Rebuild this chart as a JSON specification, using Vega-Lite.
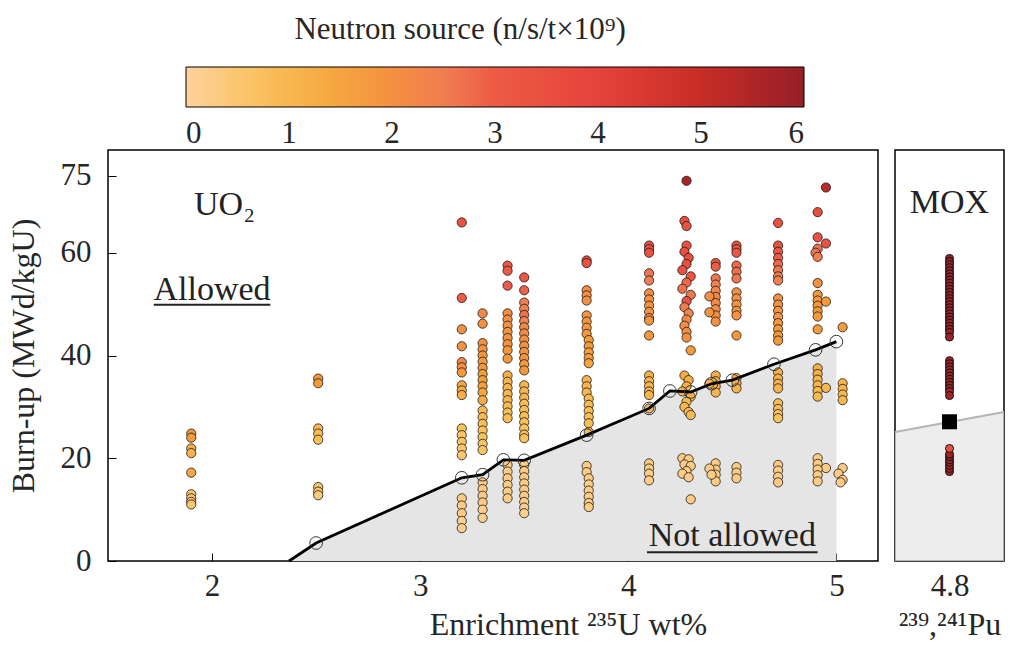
{
"$schema": "https://vega.github.io/schema/vega-lite/v6.json",
"background": "white",
"padding": {"left": 6, "top": 15, "right": 4, "bottom": 4},
"config": {
  "font": "Liberation Serif",
  "view": {"stroke": "black", "strokeWidth": 1.5},
  "axis": {"grid": false, "domain": false, "labelFont": "Liberation Serif", "labelFontSize": 31, "labelColor": "#262626", "titleFont": "Liberation Serif", "titleFontSize": 32, "titleFontWeight": "normal", "titleColor": "#262626", "tickColor": "black", "tickWidth": 1, "tickSize": -8, "labelFlush": false},
  "legend": {"orient": "none", "legendX": 78, "legendY": -135, "direction": "horizontal", "gradientLength": 618, "gradientThickness": 40, "gradientStrokeColor": "black", "gradientStrokeWidth": 1, "titleFont": "Liberation Serif", "titleFontSize": 31, "titleFontWeight": "normal", "titleColor": "#262626", "titleAnchor": "middle", "titleOrient": "top", "titlePadding": 21, "titleLimit": 0, "labelFont": "Liberation Serif", "labelFontSize": 31, "labelColor": "#262626", "labelOverlap": false, "labelAlign": "center"}
},
"datasets": {
"pts": [
{"x":1.9,"y":24.8,"n":1.8},{"x":1.9,"y":24.0,"n":1.7},{"x":1.9,"y":21.9,"n":1.2},{"x":1.9,"y":21.0,"n":1.1},{"x":1.9,"y":17.2,"n":1.4},{"x":1.9,"y":13.0,"n":0.6},{"x":1.9,"y":12.2,"n":0.5},{"x":1.9,"y":11.5,"n":0.5},{"x":1.9,"y":11.0,"n":0.5},
{"x":2.51,"y":35.5,"n":1.9},{"x":2.51,"y":34.6,"n":1.8},{"x":2.51,"y":25.8,"n":1.0},{"x":2.51,"y":24.8,"n":0.9},{"x":2.51,"y":23.6,"n":0.8},{"x":2.51,"y":14.4,"n":0.5},{"x":2.51,"y":13.5,"n":0.5},{"x":2.51,"y":12.8,"n":0.4},
{"x":3.2,"y":65.9,"n":3.3},{"x":3.2,"y":51.2,"n":3.0},{"x":3.2,"y":45.1,"n":2.0},{"x":3.2,"y":41.8,"n":1.9},{"x":3.2,"y":38.7,"n":2.2},{"x":3.2,"y":37.7,"n":2.0},{"x":3.2,"y":36.7,"n":1.8},{"x":3.2,"y":34.2,"n":1.4},{"x":3.2,"y":33.2,"n":1.3},{"x":3.2,"y":32.3,"n":1.2},{"x":3.2,"y":25.8,"n":0.7},{"x":3.2,"y":24.5,"n":0.6},{"x":3.2,"y":23.2,"n":0.6},{"x":3.2,"y":21.9,"n":0.5},{"x":3.2,"y":20.6,"n":0.5},{"x":3.2,"y":12.2,"n":0.3},{"x":3.2,"y":10.8,"n":0.3},{"x":3.2,"y":9.3,"n":0.3},{"x":3.2,"y":7.8,"n":0.2},{"x":3.2,"y":6.4,"n":0.2},
{"x":3.3,"y":48.2,"n":2.2},{"x":3.3,"y":46.2,"n":2.0},{"x":3.3,"y":42.4,"n":2.0},{"x":3.3,"y":41.2,"n":1.9},{"x":3.3,"y":40.0,"n":1.9},{"x":3.3,"y":38.8,"n":1.8},{"x":3.3,"y":37.6,"n":1.8},{"x":3.3,"y":36.4,"n":1.7},{"x":3.3,"y":35.2,"n":1.6},{"x":3.3,"y":34.0,"n":1.6},{"x":3.3,"y":32.8,"n":1.5},{"x":3.3,"y":31.3,"n":1.3},{"x":3.3,"y":29.3,"n":0.9},{"x":3.3,"y":28.0,"n":0.9},{"x":3.3,"y":26.7,"n":0.8},{"x":3.3,"y":25.4,"n":0.7},{"x":3.3,"y":24.1,"n":0.7},{"x":3.3,"y":22.8,"n":0.6},{"x":3.3,"y":21.6,"n":0.6},{"x":3.3,"y":15.3,"n":0.3},{"x":3.3,"y":14.0,"n":0.3},{"x":3.3,"y":12.7,"n":0.3},{"x":3.3,"y":11.4,"n":0.3},{"x":3.3,"y":10.0,"n":0.2},{"x":3.3,"y":8.4,"n":0.2},
{"x":3.42,"y":57.5,"n":3.1},{"x":3.42,"y":56.5,"n":3.0},{"x":3.42,"y":53.6,"n":3.0},{"x":3.42,"y":48.2,"n":2.1},{"x":3.42,"y":47.0,"n":2.0},{"x":3.42,"y":45.8,"n":2.0},{"x":3.42,"y":44.6,"n":1.9},{"x":3.42,"y":43.4,"n":1.9},{"x":3.42,"y":42.2,"n":1.9},{"x":3.42,"y":41.0,"n":1.8},{"x":3.42,"y":39.4,"n":1.8},{"x":3.42,"y":36.1,"n":1.2},{"x":3.42,"y":34.9,"n":1.1},{"x":3.42,"y":33.7,"n":1.1},{"x":3.42,"y":32.5,"n":1.0},{"x":3.42,"y":31.3,"n":1.0},{"x":3.42,"y":30.1,"n":0.9},{"x":3.42,"y":28.9,"n":0.8},{"x":3.42,"y":27.8,"n":0.8},{"x":3.42,"y":18.7,"n":0.3},{"x":3.42,"y":17.4,"n":0.3},{"x":3.42,"y":16.1,"n":0.3},{"x":3.42,"y":14.8,"n":0.3},{"x":3.42,"y":13.5,"n":0.3},{"x":3.42,"y":12.2,"n":0.3},
{"x":3.5,"y":55.2,"n":3.1},{"x":3.5,"y":52.7,"n":2.9},{"x":3.5,"y":50.3,"n":2.5},{"x":3.5,"y":49.1,"n":2.4},{"x":3.5,"y":47.9,"n":2.7},{"x":3.5,"y":46.7,"n":2.3},{"x":3.5,"y":45.5,"n":2.2},{"x":3.5,"y":44.3,"n":2.1},{"x":3.5,"y":43.1,"n":2.0},{"x":3.5,"y":41.9,"n":2.0},{"x":3.5,"y":40.7,"n":1.9},{"x":3.5,"y":39.5,"n":1.9},{"x":3.5,"y":38.3,"n":1.8},{"x":3.5,"y":37.1,"n":1.8},{"x":3.5,"y":34.2,"n":1.1},{"x":3.5,"y":33.0,"n":1.0},{"x":3.5,"y":31.8,"n":1.0},{"x":3.5,"y":30.6,"n":0.9},{"x":3.5,"y":29.4,"n":0.9},{"x":3.5,"y":28.2,"n":0.8},{"x":3.5,"y":27.0,"n":0.8},{"x":3.5,"y":25.8,"n":0.7},{"x":3.5,"y":24.6,"n":0.7},{"x":3.5,"y":23.9,"n":0.7},{"x":3.5,"y":18.7,"n":0.3},{"x":3.5,"y":17.5,"n":0.3},{"x":3.5,"y":16.3,"n":0.3},{"x":3.5,"y":15.1,"n":0.3},{"x":3.5,"y":13.9,"n":0.3},{"x":3.5,"y":12.7,"n":0.3},{"x":3.5,"y":11.5,"n":0.3},{"x":3.5,"y":10.4,"n":0.2},{"x":3.5,"y":9.3,"n":0.2},
{"x":3.8,"y":58.5,"n":3.4},{"x":3.8,"y":58.0,"n":3.3},{"x":3.8,"y":52.7,"n":2.1},{"x":3.8,"y":51.7,"n":2.0},{"x":3.8,"y":50.7,"n":2.0},{"x":3.8,"y":47.8,"n":1.9},{"x":3.8,"y":46.6,"n":1.9},{"x":3.8,"y":45.4,"n":1.8},{"x":3.8,"y":44.2,"n":1.8},{"x":3.81,"y":43.0,"n":1.7},{"x":3.81,"y":41.8,"n":1.7},{"x":3.81,"y":40.6,"n":1.6},{"x":3.81,"y":39.5,"n":1.6},{"x":3.81,"y":38.5,"n":1.5},{"x":3.8,"y":35.2,"n":1.1},{"x":3.8,"y":34.0,"n":1.1},{"x":3.8,"y":32.8,"n":1.0},{"x":3.81,"y":31.6,"n":1.0},{"x":3.81,"y":30.4,"n":0.9},{"x":3.81,"y":29.2,"n":0.9},{"x":3.81,"y":28.0,"n":0.8},{"x":3.81,"y":26.8,"n":0.8},{"x":3.81,"y":25.1,"n":0.8},{"x":3.8,"y":18.5,"n":0.3},{"x":3.8,"y":17.3,"n":0.3},{"x":3.81,"y":16.1,"n":0.3},{"x":3.81,"y":14.9,"n":0.3},{"x":3.81,"y":13.7,"n":0.3},{"x":3.81,"y":12.5,"n":0.3},{"x":3.81,"y":11.3,"n":0.3},{"x":3.81,"y":10.5,"n":0.3},
{"x":4.1,"y":61.4,"n":3.4},{"x":4.1,"y":60.7,"n":3.4},{"x":4.1,"y":60.0,"n":3.3},{"x":4.1,"y":56.0,"n":2.6},{"x":4.1,"y":54.6,"n":2.5},{"x":4.1,"y":52.1,"n":2.1},{"x":4.1,"y":50.9,"n":2.0},{"x":4.1,"y":49.7,"n":2.0},{"x":4.1,"y":48.5,"n":1.9},{"x":4.1,"y":47.3,"n":1.9},{"x":4.1,"y":46.8,"n":1.9},{"x":4.1,"y":43.9,"n":1.8},{"x":4.1,"y":36.1,"n":1.2},{"x":4.1,"y":35.0,"n":1.2},{"x":4.1,"y":34.0,"n":1.1},{"x":4.1,"y":33.0,"n":1.1},{"x":4.1,"y":32.3,"n":1.1},{"x":4.1,"y":29.7,"n":1.0},{"x":4.1,"y":19.0,"n":0.3},{"x":4.1,"y":18.0,"n":0.3},{"x":4.1,"y":17.0,"n":0.3},{"x":4.1,"y":15.7,"n":0.3},
{"x":4.28,"y":74.0,"n":5.6},{"x":4.27,"y":66.2,"n":3.5},{"x":4.28,"y":65.2,"n":3.4},{"x":4.28,"y":61.4,"n":3.4},{"x":4.27,"y":60.2,"n":3.5},{"x":4.29,"y":59.0,"n":3.6},{"x":4.28,"y":57.8,"n":3.5},{"x":4.26,"y":56.6,"n":3.3},{"x":4.3,"y":55.4,"n":3.2},{"x":4.28,"y":54.2,"n":2.8},{"x":4.26,"y":53.0,"n":2.7},{"x":4.3,"y":51.8,"n":2.6},{"x":4.28,"y":50.6,"n":3.3},{"x":4.27,"y":49.4,"n":2.5},{"x":4.29,"y":48.2,"n":2.3},{"x":4.28,"y":47.0,"n":2.2},{"x":4.27,"y":45.8,"n":2.1},{"x":4.28,"y":44.6,"n":2.0},{"x":4.28,"y":43.5,"n":2.0},{"x":4.3,"y":41.0,"n":1.7},{"x":4.27,"y":36.1,"n":1.3},{"x":4.29,"y":35.2,"n":1.2},{"x":4.28,"y":34.0,"n":1.2},{"x":4.26,"y":33.0,"n":1.1},{"x":4.3,"y":32.0,"n":1.1},{"x":4.28,"y":31.0,"n":1.0},{"x":4.27,"y":30.0,"n":1.0},{"x":4.29,"y":29.0,"n":0.9},{"x":4.3,"y":28.4,"n":0.9},{"x":4.26,"y":20.0,"n":0.3},{"x":4.29,"y":19.8,"n":0.3},{"x":4.27,"y":18.8,"n":0.3},{"x":4.3,"y":18.5,"n":0.3},{"x":4.28,"y":17.5,"n":0.3},{"x":4.26,"y":17.0,"n":0.3},{"x":4.29,"y":16.3,"n":0.3},{"x":4.3,"y":12.0,"n":0.3},
{"x":4.42,"y":58.0,"n":3.1},{"x":4.42,"y":57.3,"n":3.0},{"x":4.42,"y":55.0,"n":2.6},{"x":4.42,"y":53.8,"n":2.4},{"x":4.42,"y":52.6,"n":2.3},{"x":4.42,"y":51.4,"n":2.2},{"x":4.42,"y":50.2,"n":2.1},{"x":4.42,"y":49.0,"n":2.1},{"x":4.42,"y":47.8,"n":2.0},{"x":4.42,"y":46.6,"n":2.0},{"x":4.39,"y":51.5,"n":2.0},{"x":4.39,"y":48.4,"n":1.9},{"x":4.42,"y":36.1,"n":1.2},{"x":4.42,"y":35.0,"n":1.2},{"x":4.42,"y":34.0,"n":1.1},{"x":4.42,"y":32.8,"n":1.1},{"x":4.39,"y":34.5,"n":1.1},{"x":4.42,"y":19.0,"n":0.3},{"x":4.42,"y":17.8,"n":0.3},{"x":4.42,"y":16.8,"n":0.3},{"x":4.42,"y":15.5,"n":0.3},{"x":4.39,"y":18.0,"n":0.3},{"x":4.4,"y":16.8,"n":0.3},
{"x":4.52,"y":61.4,"n":3.4},{"x":4.52,"y":60.7,"n":3.3},{"x":4.52,"y":60.0,"n":3.2},{"x":4.52,"y":57.5,"n":2.8},{"x":4.52,"y":56.3,"n":2.7},{"x":4.52,"y":55.0,"n":2.6},{"x":4.52,"y":52.3,"n":2.0},{"x":4.52,"y":51.1,"n":2.0},{"x":4.52,"y":49.9,"n":1.9},{"x":4.52,"y":48.7,"n":1.9},{"x":4.52,"y":47.8,"n":1.9},{"x":4.52,"y":43.9,"n":1.8},{"x":4.52,"y":35.6,"n":1.2},{"x":4.52,"y":34.6,"n":1.2},{"x":4.52,"y":33.6,"n":1.1},{"x":4.52,"y":18.3,"n":0.3},{"x":4.52,"y":17.2,"n":0.3},{"x":4.52,"y":16.1,"n":0.3},
{"x":4.72,"y":65.8,"n":3.4},{"x":4.72,"y":61.4,"n":3.3},{"x":4.72,"y":60.2,"n":3.2},{"x":4.72,"y":59.0,"n":3.0},{"x":4.72,"y":57.8,"n":2.8},{"x":4.72,"y":56.6,"n":2.6},{"x":4.72,"y":55.4,"n":2.5},{"x":4.72,"y":54.6,"n":2.4},{"x":4.72,"y":51.1,"n":2.0},{"x":4.72,"y":49.9,"n":2.0},{"x":4.72,"y":48.7,"n":1.9},{"x":4.72,"y":47.5,"n":1.9},{"x":4.72,"y":46.3,"n":1.9},{"x":4.72,"y":45.1,"n":1.8},{"x":4.72,"y":43.9,"n":1.8},{"x":4.72,"y":42.9,"n":1.8},{"x":4.72,"y":36.7,"n":1.2},{"x":4.72,"y":35.5,"n":1.2},{"x":4.72,"y":34.5,"n":1.1},{"x":4.72,"y":33.6,"n":1.1},{"x":4.72,"y":30.7,"n":0.8},{"x":4.72,"y":29.6,"n":0.8},{"x":4.72,"y":28.6,"n":0.7},{"x":4.72,"y":27.8,"n":0.7},{"x":4.72,"y":18.7,"n":0.3},{"x":4.72,"y":17.6,"n":0.3},{"x":4.72,"y":16.4,"n":0.3},{"x":4.72,"y":15.3,"n":0.3},
{"x":4.95,"y":72.7,"n":5.2},{"x":4.91,"y":67.9,"n":3.5},{"x":4.91,"y":63.0,"n":3.4},{"x":4.95,"y":61.8,"n":3.3},{"x":4.91,"y":60.8,"n":2.7},{"x":4.9,"y":60.0,"n":2.6},{"x":4.91,"y":59.2,"n":2.5},{"x":4.91,"y":54.1,"n":2.0},{"x":4.91,"y":51.8,"n":1.8},{"x":4.91,"y":50.7,"n":1.8},{"x":4.91,"y":49.7,"n":1.8},{"x":4.95,"y":50.5,"n":1.7},{"x":4.91,"y":48.6,"n":1.8},{"x":4.91,"y":47.6,"n":1.8},{"x":4.91,"y":45.1,"n":1.7},{"x":4.91,"y":37.5,"n":1.2},{"x":4.91,"y":36.4,"n":1.2},{"x":4.91,"y":35.3,"n":1.1},{"x":4.91,"y":34.2,"n":1.1},{"x":4.95,"y":33.7,"n":1.0},{"x":4.91,"y":33.1,"n":1.0},{"x":4.91,"y":32.0,"n":1.0},{"x":4.91,"y":20.0,"n":0.3},{"x":4.91,"y":18.9,"n":0.3},{"x":4.95,"y":18.1,"n":0.3},{"x":4.91,"y":17.8,"n":0.3},{"x":4.91,"y":16.7,"n":0.3},{"x":4.91,"y":15.5,"n":0.3},
{"x":5.03,"y":45.5,"n":1.7},{"x":5.03,"y":34.6,"n":1.1},{"x":5.03,"y":33.5,"n":1.1},{"x":5.03,"y":32.4,"n":1.0},{"x":5.03,"y":31.3,"n":1.0},{"x":5.03,"y":18.1,"n":0.3},{"x":5.01,"y":17.0,"n":0.3},{"x":5.03,"y":15.8,"n":0.3},{"x":5.02,"y":15.3,"n":0.3}
],
"bound": [
{"x":2.37,"y":0,"c":0},{"x":2.5,"y":3.5,"c":1},{"x":3.2,"y":16.2,"c":1},{"x":3.3,"y":16.8,"c":1},{"x":3.4,"y":19.7,"c":1},{"x":3.5,"y":19.6,"c":1},{"x":3.8,"y":24.5,"c":1},{"x":4.1,"y":29.7,"c":1},{"x":4.2,"y":33.1,"c":1},{"x":4.3,"y":32.9,"c":1},{"x":4.4,"y":34.5,"c":1},{"x":4.5,"y":35.2,"c":1},{"x":4.7,"y":38.3,"c":1},{"x":4.9,"y":41.1,"c":1},{"x":5.0,"y":42.7,"c":1}
],
"rticks": [{"y":20},{"y":40},{"y":60},{"y":75}],
"notes": [
{"x":2.06,"y":67.3,"t":"UO₂"},{"x":2.0,"y":50.8,"t":"Allowed"},{"x":4.5,"y":3.0,"t":"Not allowed"}
],
"ul": [
{"x":1.72,"x2":2.28,"y":49.9},{"x":4.09,"x2":4.91,"y":1.7}
],
"mox": [
{"x":4.8,"y":58.9,"n":5.8},{"x":4.8,"y":58.3,"n":5.8},{"x":4.8,"y":57.7,"n":5.8},{"x":4.8,"y":57.1,"n":5.8},{"x":4.8,"y":56.5,"n":5.8},{"x":4.8,"y":55.9,"n":5.8},{"x":4.8,"y":55.3,"n":5.8},{"x":4.8,"y":54.7,"n":5.8},{"x":4.8,"y":54.1,"n":5.8},{"x":4.8,"y":53.5,"n":5.8},{"x":4.8,"y":52.9,"n":5.8},{"x":4.8,"y":52.3,"n":5.8},{"x":4.8,"y":51.7,"n":5.8},{"x":4.8,"y":51.1,"n":5.8},{"x":4.8,"y":50.5,"n":5.8},{"x":4.8,"y":49.9,"n":5.8},{"x":4.8,"y":49.3,"n":5.8},{"x":4.8,"y":48.7,"n":5.8},{"x":4.8,"y":48.1,"n":5.8},{"x":4.8,"y":47.5,"n":5.8},{"x":4.8,"y":46.9,"n":5.8},{"x":4.8,"y":46.3,"n":5.8},{"x":4.8,"y":45.7,"n":5.8},{"x":4.8,"y":45.1,"n":5.8},{"x":4.8,"y":44.5,"n":5.8},{"x":4.8,"y":43.6,"n":5.8},
{"x":4.8,"y":39.0,"n":5.7},{"x":4.8,"y":38.4,"n":5.7},{"x":4.8,"y":37.8,"n":5.7},{"x":4.8,"y":37.2,"n":5.7},{"x":4.8,"y":36.6,"n":5.7},{"x":4.8,"y":36.0,"n":5.7},{"x":4.8,"y":35.4,"n":5.7},{"x":4.8,"y":34.8,"n":5.7},{"x":4.8,"y":34.2,"n":5.7},{"x":4.8,"y":33.6,"n":5.7},{"x":4.8,"y":33.0,"n":5.7},{"x":4.8,"y":32.2,"n":5.7},
{"x":4.8,"y":17.4,"n":5.7},{"x":4.8,"y":18.0,"n":5.7},{"x":4.8,"y":18.6,"n":5.7},{"x":4.8,"y":19.2,"n":5.7},{"x":4.8,"y":19.7,"n":5.7},{"x":4.8,"y":20.3,"n":5.7},{"x":4.8,"y":20.8,"n":5.7},{"x":4.8,"y":21.9,"n":3.4}
],
"moxb": [{"x":4.5,"y":25.1},{"x":5.1,"y":29.0}],
"moxsq": [{"x":4.8,"y":27.1}],
"moxt": [{"x":4.8,"y":67.7,"t":"MOX"}]
},
"spacing": 11,
"hconcat": [
{
 "width": 770, "height": 411,
 "encoding": {
   "x": {"field": "x", "type": "quantitative", "scale": {"domain": [1.5, 5.2], "nice": false, "zero": false}, "axis": {"values": [2,3,4,5], "title": "Enrichment ²³⁵U wt%", "labelPadding": 18, "titlePadding": 8, "titleX": 460}},
   "y": {"field": "y", "type": "quantitative", "scale": {"domain": [0, 80], "nice": false}, "axis": {"values": [0,20,40,60,75], "title": "Burn-up (MWd/kgU)", "labelPadding": 25, "titlePadding": 20}}
 },
 "layer": [
  {"data": {"name": "bound"}, "mark": {"type": "area", "color": "#e5e5e5"}},
  {"data": {"name": "rticks"}, "mark": {"type": "rule", "color": "black", "strokeWidth": 1}, "encoding": {"x": {"datum": 5.1615}, "x2": {"datum": 5.2}}},
  {"data": {"name": "pts"}, "mark": {"type": "circle", "size": 85, "stroke": "#1a1a1a", "strokeWidth": 0.8, "opacity": 1},
   "encoding": {"color": {"field": "n", "type": "quantitative", "scale": {"domain": [0,0.7,1.7,2.5,3,4,5,6], "range": ["#fcd3a0","#fac25a","#f49c39","#f07e50","#ed5a45","#e4433a","#c82d26","#952026"], "clamp": true}, "legend": {"title": "Neutron source (n/s/t×10⁹)\u00a0\u00a0\u00a0\u00a0\u00a0\u00a0\u00a0\u00a0\u00a0\u200b", "values": [0,1,2,3,4,5,6], "format": "d", "labelOffset": 12, "labelBaseline": "top"}}}},
  {"data": {"name": "bound"}, "mark": {"type": "line", "color": "black", "strokeWidth": 2.8}},
  {"data": {"name": "bound"}, "transform": [{"filter": "datum.c == 1"}], "mark": {"type": "point", "shape": "circle", "size": 160, "filled": false, "stroke": "#333", "strokeWidth": 1, "opacity": 1}},
  {"data": {"name": "notes"}, "mark": {"type": "text", "font": "Liberation Serif", "fontSize": 34, "color": "#222", "baseline": "alphabetic", "align": "center"}, "encoding": {"text": {"field": "t"}}},
  {"data": {"name": "ul"}, "mark": {"type": "rule", "color": "#222", "strokeWidth": 2}, "encoding": {"x2": {"field": "x2"}}}
 ]
},
{
 "width": 109, "height": 411,
 "encoding": {
   "x": {"field": "x", "type": "quantitative", "scale": {"domain": [4.5, 5.1], "nice": false, "zero": false}, "axis": {"values": [4.8], "format": ".1f", "title": "²³⁹,²⁴¹Pu", "labelPadding": 10, "titlePadding": 8, "ticks": false}},
   "y": {"field": "y", "type": "quantitative", "scale": {"domain": [0, 80], "nice": false}, "axis": null}
 },
 "layer": [
  {"data": {"name": "moxb"}, "mark": {"type": "area", "color": "#e5e5e5", "line": {"color": "#b5b5b5", "strokeWidth": 2}}},
  {"data": {"name": "mox"}, "mark": {"type": "circle", "size": 64, "stroke": "#111", "strokeWidth": 1, "opacity": 1},
   "encoding": {"color": {"field": "n", "type": "quantitative"}}},
  {"data": {"name": "moxsq"}, "mark": {"type": "square", "size": 225, "color": "black", "opacity": 1}},
  {"data": {"name": "moxt"}, "mark": {"type": "text", "font": "Liberation Serif", "fontSize": 34, "color": "#222", "baseline": "alphabetic", "align": "center"}, "encoding": {"text": {"field": "t"}}}
 ]
}
]
}
